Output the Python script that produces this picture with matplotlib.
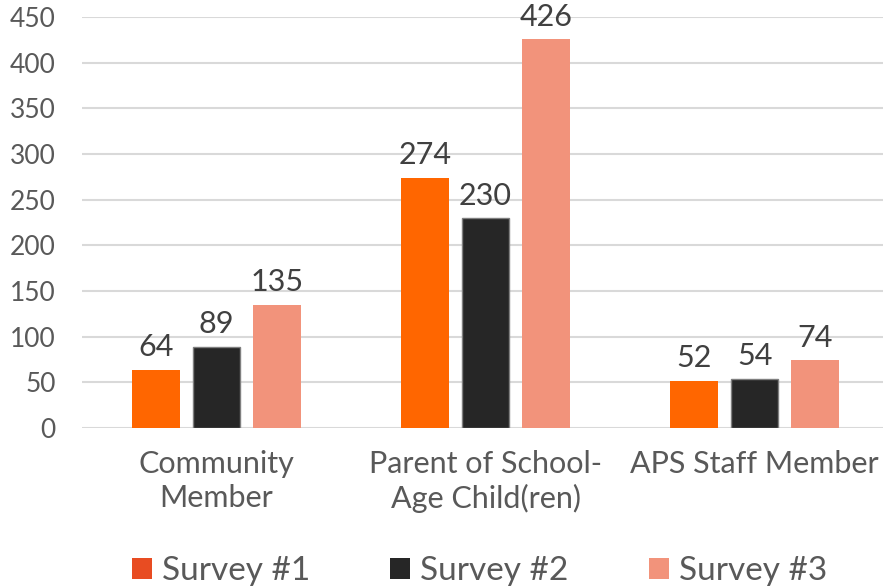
import matplotlib
matplotlib.use("Agg")
import matplotlib.pyplot as plt
import numpy as np
from matplotlib.patches import Patch

categories = ["Community\nMember", "Parent of School-\nAge Child(ren)", "APS Staff Member"]
series_names = ["Survey #1", "Survey #2", "Survey #3"]
survey1 = [64, 274, 52]
survey2 = [89, 230, 54]
survey3 = [135, 426, 74]
yticks = [0, 50, 100, 150, 200, 250, 300, 350, 400, 450]

bar_colors = ["#FF6600", "#262626", "#F2937B"]
legend_colors = ["#E84C22", "#262626", "#F2937B"]
edge_colors = ["#FF6600", "#7F7F7F", "#F2937B"]

plt.rcParams["font.family"] = ["Lato", "DejaVu Sans"]

fig = plt.figure(figsize=(8.83, 5.88), dpi=100)
ax = fig.add_axes([0.0929, 0.272, 0.914, 0.699])

x = np.arange(len(categories))
width = 0.176
pitch = 0.225
for i, (vals, c, ec) in enumerate(zip([survey1, survey2, survey3], bar_colors, edge_colors)):
    pos = x + (i - 1) * pitch
    ax.bar(pos, vals, width, color=c, edgecolor=ec, linewidth=1 if i == 1 else 0, zorder=3)
    for p, v in zip(pos, vals):
        ax.annotate(str(v), (p, v), xytext=(0, 6), textcoords="offset points",
                    ha="center", va="bottom", fontsize=22, color="#404040")

ax.set_xlim(-0.5, 2.5)
ax.set_ylim(0, 450)
ax.set_yticks(yticks)
ax.set_yticklabels([str(t) for t in yticks], fontsize=19, color="#595959")
ax.set_xticks(x)
ax.set_xticklabels(categories, fontsize=22, color="#595959", linespacing=1.25)
ax.tick_params(axis="x", length=0, pad=16)
ax.tick_params(axis="y", length=0, pad=19)
ax.grid(axis="y", color="#D9D9D9", linewidth=1.5, zorder=0)
for s in ax.spines.values():
    s.set_visible(False)

handles = [Patch(facecolor=c, edgecolor="none") for c in legend_colors]
fig.legend(handles, series_names, loc="lower center", bbox_to_anchor=(0.543, -0.048), ncol=3,
           frameon=False, fontsize=24, handlelength=0.6, handleheight=0.6,
           handletextpad=0.3, columnspacing=2.4, labelcolor="#595959")

fig.savefig("out.png", dpi=100)
